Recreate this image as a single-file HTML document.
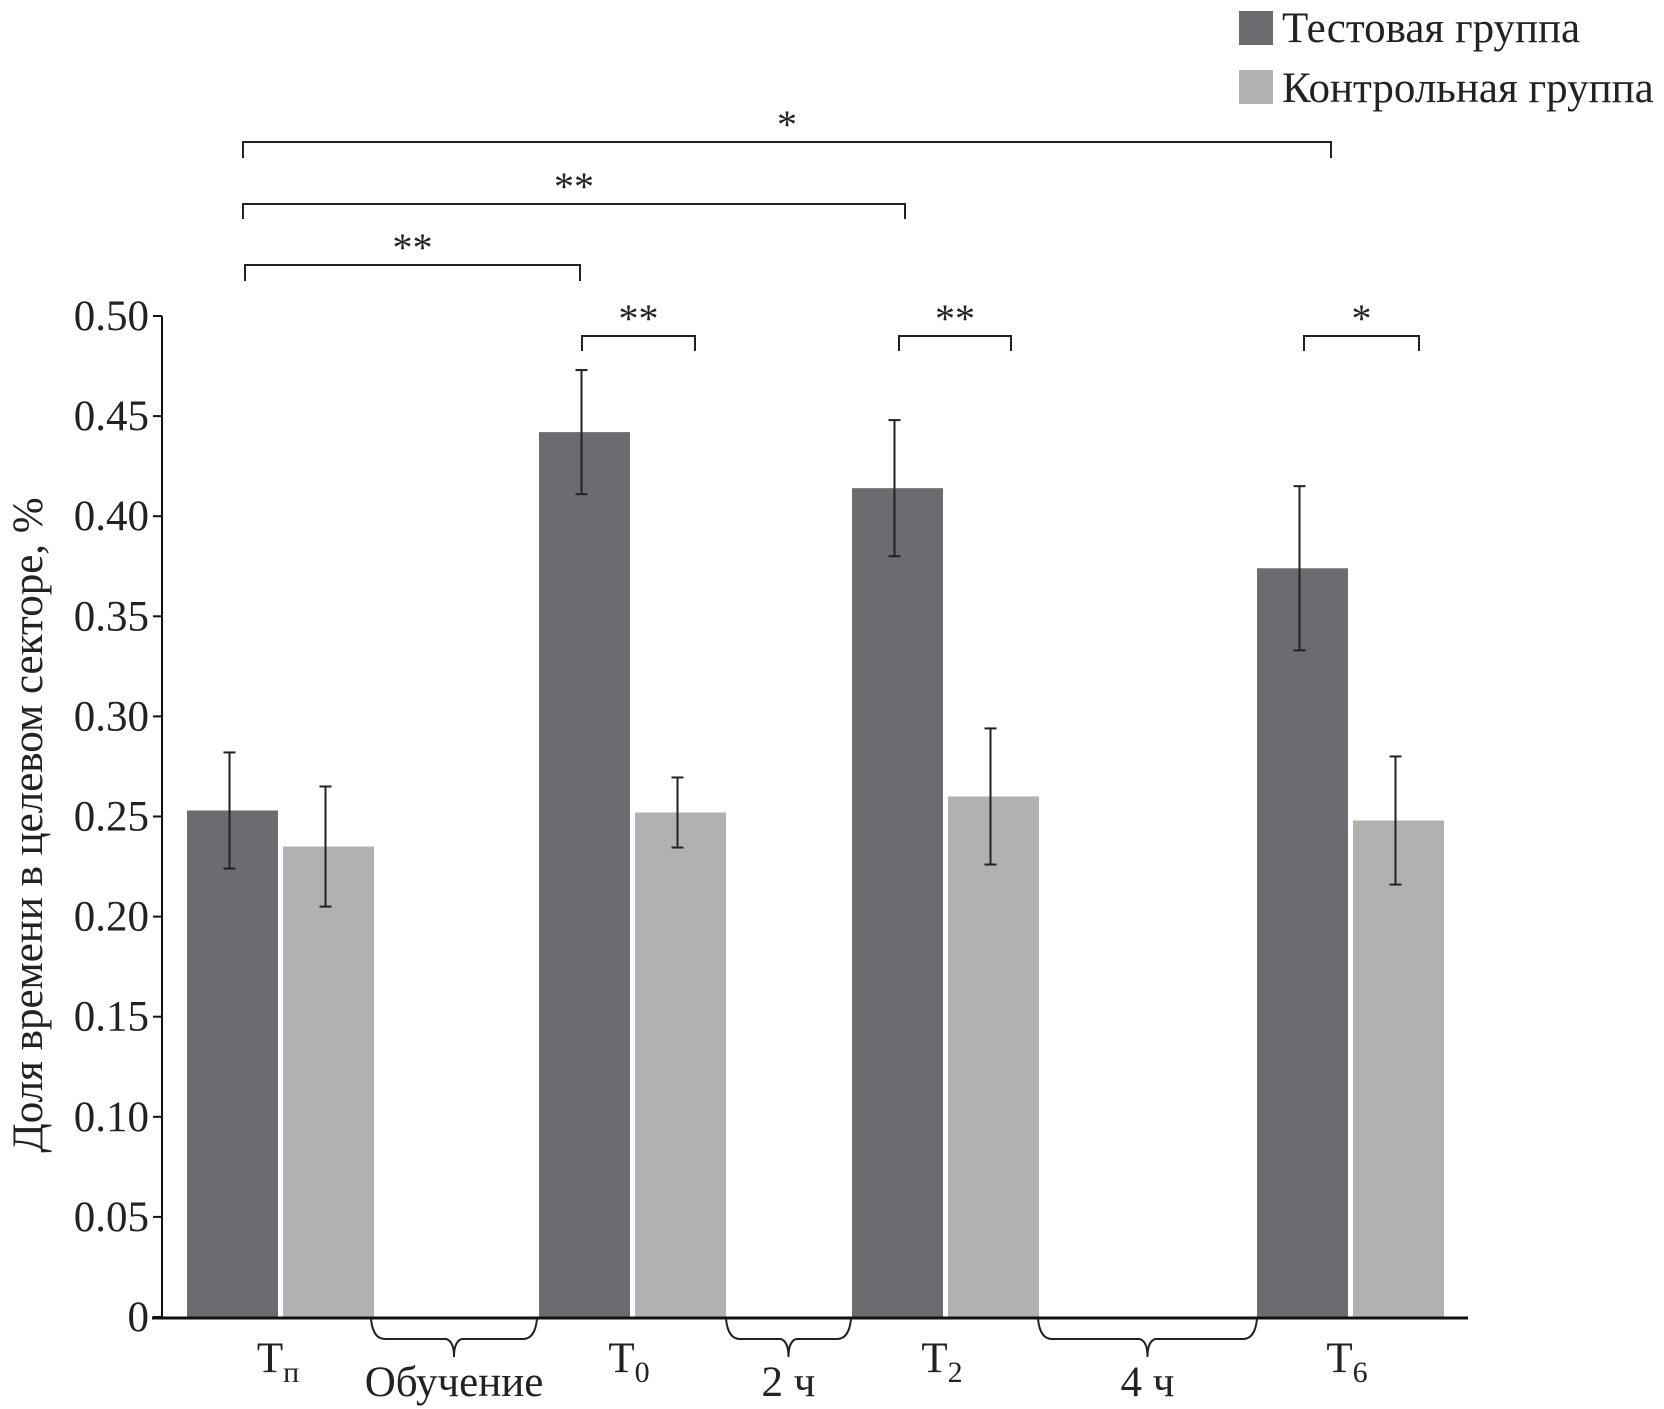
<!DOCTYPE html>
<html><head><meta charset="utf-8"><style>
html,body{margin:0;padding:0;background:#fff;}
svg{display:block;font-family:"Liberation Serif","DejaVu Serif",serif;}
</style></head><body>
<svg id="chart" width="1664" height="1409" viewBox="0 0 1664 1409" xmlns="http://www.w3.org/2000/svg">
<g id="legend">
 <rect x="1239" y="11" width="34" height="34" fill="#6b6c70"/>
 <text x="1282" y="42" font-size="43" fill="#222">Тестовая группа</text>
 <rect x="1239" y="70" width="34" height="34" fill="#b0b1b3"/>
 <text x="1282" y="102" font-size="43" fill="#222">Контрольная группа</text>
</g>
<text transform="translate(42,825) rotate(-90)" text-anchor="middle" font-size="43" fill="#222">Доля времени в целевом секторе, %</text>
</svg>
<script>
const categories=["Tп","T0","T2","T6"];
const testValues=[0.253,0.442,0.414,0.374];
const testErrors=[0.029,0.031,0.034,0.041];
const controlValues=[0.235,0.252,0.260,0.248];
const controlErrors=[0.030,0.0175,0.034,0.032];
const yTicks=[0,0.05,0.10,0.15,0.20,0.25,0.30,0.35,0.40,0.45,0.50];
const yTickLabels=["0","0.05","0.10","0.15","0.20","0.25","0.30","0.35","0.40","0.45","0.50"];

const svg=document.getElementById('chart');
const NS="http://www.w3.org/2000/svg";
const y0=1317,yTop=316,axX=162,axRight=1468;
function y(v){return y0-(v/0.5)*(y0-yTop);}
const groupLeft=[187,539,852,1257];
const barW=91,gap=5;
function mk(tag,attrs,parent){const e=document.createElementNS(NS,tag);for(const k in attrs)e.setAttribute(k,attrs[k]);(parent||svg).appendChild(e);return e;}

categories.forEach((c,i)=>{
  const xd=groupLeft[i], xl=xd+barW+gap;
  let b=mk('rect',{x:xd,y:y(testValues[i]),width:barW,height:y0-y(testValues[i]),fill:'#6b6c70'});
  
  
  b=mk('rect',{x:xl,y:y(controlValues[i]),width:barW,height:y0-y(controlValues[i]),fill:'#b0b1b3'});
  
  
  [[xd+barW/2-3,testValues[i],testErrors[i],'test'],[xl+barW/2-3,controlValues[i],controlErrors[i],'control']].forEach(([cx,v,e,n])=>{
    const g=mk('g',{stroke:'#222','stroke-width':2});
    
    
    mk('line',{x1:cx,x2:cx,y1:y(v+e),y2:y(v-e)},g);
    mk('line',{x1:cx-6,x2:cx+6,y1:y(v+e),y2:y(v+e)},g);
    mk('line',{x1:cx-6,x2:cx+6,y1:y(v-e),y2:y(v-e)},g);
  });
});

let ax=mk('line',{x1:axX,x2:axX,y1:yTop,y2:y0,stroke:'#111','stroke-width':2});


ax=mk('line',{x1:axX-10,x2:axRight,y1:y0+1,y2:y0+1,stroke:'#111','stroke-width':3});


yTicks.forEach((t,i)=>{
  const tk=mk('line',{x1:axX-9,x2:axX,y1:y(t),y2:y(t),stroke:'#111','stroke-width':2});
  
  
  const tl=mk('text',{x:axX-13,y:y(t)+14,'text-anchor':'end','font-size':43,fill:'#222'});
  tl.textContent=yTickLabels[i];
  
  
});

const xLabs=[["T","п",278],["T","0",629],["T","2",942],["T","6",1347]];
xLabs.forEach(([m,s,x])=>{
  const t=mk('text',{x:x,y:1372,'text-anchor':'middle','font-size':43,fill:'#222'});
  t.innerHTML=m+'<tspan font-size="30" dy="10">'+s+'</tspan>';
  
  
});
[[371,537,"Обучение"],[726,851,"2 ч"],[1038,1257,"4 ч"]].forEach(([a,b,l])=>{
  const m=(a+b)/2;
  const p=mk('path',{d:`M${a},${y0+2} Q${a+2},${y0+22} ${a+14},${y0+22} L${m-8},${y0+22} Q${m},${y0+24} ${m},${y0+40} Q${m},${y0+24} ${m+8},${y0+22} L${b-14},${y0+22} Q${b-2},${y0+22} ${b},${y0+2}`,fill:'none',stroke:'#222','stroke-width':2});
  
  
  const t=mk('text',{x:m,y:1396,'text-anchor':'middle','font-size':43,fill:'#222'});
  t.textContent=l;
  
  
});
[[243,1331,142,158,"*"],[243,905,204,219,"**"],[245,580,265,281,"**"],[582,695,336,351,"**"],[899,1011,336,351,"**"],[1304,1419,336,351,"*"]].forEach(([a,b,t,bt,s])=>{
  const p=mk('path',{d:`M${a},${bt} L${a},${t} L${b},${t} L${b},${bt}`,fill:'none',stroke:'#222','stroke-width':2});
  
  
  const tx=mk('text',{x:(a+b)/2,y:t-4,'text-anchor':'middle','font-size':40,fill:'#222'});
  tx.textContent=s;
  
  
});
</script>
</body></html>
